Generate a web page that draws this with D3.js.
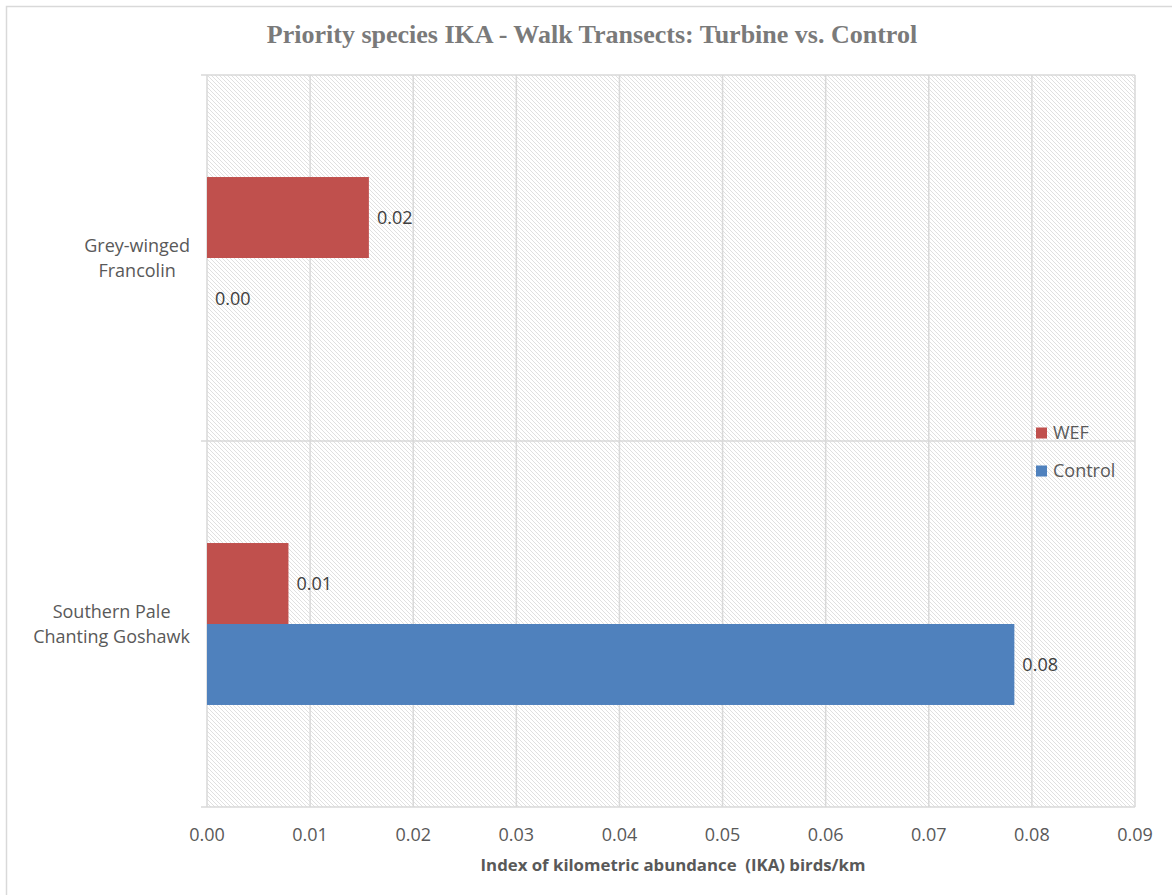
<!DOCTYPE html>
<html>
<head>
<meta charset="utf-8">
<script src="https://cdn.jsdelivr.net/npm/d3@7"></script>
<style>
  html, body { margin: 0; padding: 0; background: #ffffff; }
  svg { display: block; }
</style>
</head>
<body>
<svg id="chart" width="1172" height="895"></svg>
<script>
// Species (category axis), top to bottom
const species = [
  ["Grey-winged", "Francolin"],
  ["Southern Pale", "Chanting Goshawk"]
];
const speciesKeys = ["Grey-winged Francolin", "Southern Pale Chanting Goshawk"];

// Series and their IKA values (birds/km)
const seriesNames = ["WEF", "Control"];
const wefValues = [0.0157, 0.0079];
const controlValues = [0.0, 0.0783];
const seriesColors = ["#c0504d", "#4f81bd"];

// Value axis ticks
const xTicks = [0, 0.01, 0.02, 0.03, 0.04, 0.05, 0.06, 0.07, 0.08, 0.09];

const titleText = "Priority species IKA - Walk Transects: Turbine vs. Control";
const xAxisTitle = "Index of kilometric abundance  (IKA) birds/km";

const svg = d3.select("#chart");
const W = 1172, H = 895;
const plot = { left: 207, right: 1135, top: 75, bottom: 807 };
const FONT = "'Open Sans', 'Noto Sans', sans-serif";

// Outer chart frame
svg.append("rect")
  .attr("x", 6.5).attr("y", 6.5)
  .attr("width", W + 10).attr("height", H + 10)
  .attr("fill", "#ffffff")
  .attr("stroke", "#d9d9d9").attr("stroke-width", 1.5);

// Diagonal hatch fill for the plot area
const defs = svg.append("defs");
const pat = defs.append("pattern")
  .attr("id", "hatch")
  .attr("patternUnits", "userSpaceOnUse")
  .attr("width", 4).attr("height", 4);
pat.append("rect").attr("width", 4).attr("height", 4).attr("fill", "#ffffff");
[0, 1, 2, 3].forEach(i => {
  pat.append("rect").attr("x", i).attr("y", i).attr("width", 1).attr("height", 1).attr("fill", "#e0e0e0");
});

svg.append("rect")
  .attr("x", plot.left).attr("y", plot.top)
  .attr("width", plot.right - plot.left).attr("height", plot.bottom - plot.top)
  .attr("fill", "url(#hatch)");

// Scales
const x = d3.scaleLinear().domain([0, 0.09]).range([plot.left, plot.right]);
const y = d3.scaleBand().domain(speciesKeys).range([plot.top, plot.bottom]).paddingInner(0).paddingOuter(0);
const ySeries = d3.scaleBand().domain(seriesNames).range([0, y.bandwidth()]).paddingInner(0).paddingOuter(1.26);

// Vertical gridlines
svg.append("g")
  .selectAll("line")
  .data(xTicks.slice(1))
  .join("line")
  .attr("x1", d => x(d)).attr("x2", d => x(d))
  .attr("y1", plot.top).attr("y2", plot.bottom)
  .attr("stroke", "#d9d9d9").attr("stroke-width", 1.5);

// Horizontal category boundaries (with tick marks past the axis)
const bounds = [plot.top, plot.top + y.bandwidth(), plot.bottom];
svg.append("g")
  .selectAll("line")
  .data(bounds)
  .join("line")
  .attr("x1", plot.left - 6).attr("x2", plot.right)
  .attr("y1", d => d).attr("y2", d => d)
  .attr("stroke", "#d9d9d9").attr("stroke-width", 1.5);

// Category axis line
svg.append("line")
  .attr("x1", plot.left).attr("x2", plot.left)
  .attr("y1", plot.top).attr("y2", plot.bottom)
  .attr("stroke", "#d9d9d9").attr("stroke-width", 1.5);

// Bars
const rows = speciesKeys.map((k, i) => ({ key: k, values: [wefValues[i], controlValues[i]] }));
const groups = svg.append("g").selectAll("g")
  .data(rows)
  .join("g")
  .attr("transform", d => `translate(0,${y(d.key)})`);

groups.selectAll("rect")
  .data(d => d.values.map((v, j) => ({ s: seriesNames[j], v, j })))
  .join("rect")
  .attr("x", x(0))
  .attr("y", d => ySeries(d.s))
  .attr("width", d => x(d.v) - x(0))
  .attr("height", ySeries.bandwidth())
  .attr("fill", d => seriesColors[d.j]);

// Value labels
groups.selectAll("text")
  .data(d => d.values.map((v, j) => ({ s: seriesNames[j], v, j })))
  .join("text")
  .attr("x", d => x(d.v) + 8)
  .attr("y", d => ySeries(d.s) + ySeries.bandwidth() / 2)
  .attr("dy", "0.35em")
  .attr("font-family", FONT).attr("font-size", 18)
  .attr("fill", "#404040")
  .text(d => d3.format(".2f")(d.v));

// Value axis tick labels
svg.append("g")
  .selectAll("text")
  .data(xTicks)
  .join("text")
  .attr("x", d => x(d))
  .attr("y", 841)
  .attr("text-anchor", "middle")
  .attr("font-family", FONT).attr("font-size", 18)
  .attr("fill", "#595959")
  .text(d => d3.format(".2f")(d));

// Category labels: lines centred within a block that is right-aligned
const catG = svg.append("g");
rows.forEach((r, i) => {
  const lines = species[i];
  const t = catG.append("text")
    .attr("font-family", FONT).attr("font-size", 18)
    .attr("fill", "#595959")
    .attr("text-anchor", "middle");
  const cy = y(r.key) + y.bandwidth() / 2;
  lines.forEach((ln, k) => {
    t.append("tspan").attr("y", cy + (k - (lines.length - 1) / 2) * 25).attr("dy", "0.35em").text(ln);
  });
  let maxW = 0;
  t.selectAll("tspan").each(function () { maxW = Math.max(maxW, this.getComputedTextLength()); });
  t.selectAll("tspan").attr("x", 190 - maxW / 2);
});

// Legend
const legend = svg.append("g");
seriesNames.forEach((s, i) => {
  const ly = 433 + i * 38;
  legend.append("rect")
    .attr("x", 1036).attr("y", ly - 5.5)
    .attr("width", 11).attr("height", 11)
    .attr("fill", seriesColors[i]);
  legend.append("text")
    .attr("x", 1053).attr("y", ly)
    .attr("dy", "0.35em")
    .attr("font-family", FONT).attr("font-size", 18)
    .attr("fill", "#595959")
    .text(s);
});

// Chart title
svg.append("text")
  .attr("x", 592)
  .attr("y", 43)
  .attr("text-anchor", "middle")
  .attr("font-family", "'Liberation Serif', 'DejaVu Serif', serif")
  .attr("font-weight", "bold")
  .attr("font-size", 26)
  .attr("fill", "#7a7a7a")
  .text(titleText);

// Value axis title
svg.append("text")
  .attr("x", 673)
  .attr("y", 871)
  .attr("text-anchor", "middle")
  .style("white-space", "pre")
  .attr("font-family", FONT)
  .attr("font-weight", "bold")
  .attr("font-size", 16.8)
  .attr("fill", "#595959")
  .text(xAxisTitle);
</script>
</body>
</html>
